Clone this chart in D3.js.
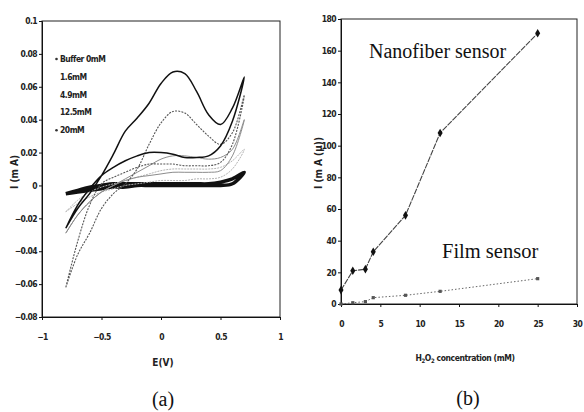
<!DOCTYPE html>
<html>
<head>
<meta charset="utf-8">
<script src="https://cdn.jsdelivr.net/npm/d3@7"></script>
<style>
  body { margin: 0; background: #fff; }
  .tick text { font-family: 'Liberation Sans Narrow', 'DejaVu Sans Condensed', sans-serif; font-size: 8.5px; font-weight: bold; fill: #222; letter-spacing: -0.6px; }
  .axis path, .axis line { stroke: #111; }
  .lbl { font-family: 'Liberation Sans Narrow', 'DejaVu Sans Condensed', sans-serif; font-weight: bold; fill: #222; }
  .serif { font-family: 'Liberation Serif', 'DejaVu Serif', serif; fill: #111; }
</style>
</head>
<body>
<div id="chart"></div>
<script>
// (a) cyclic voltammograms, current (mA) sampled every 0.1 V
const potentials = [-0.8, -0.7, -0.6, -0.5, -0.4, -0.3, -0.2, -0.1, 0, 0.1, 0.2, 0.3, 0.4, 0.5, 0.6, 0.7];
const cvLabels = ["Buffer 0mM", "1.6mM", "4.9mM", "12.5mM", "20mM"];
// forward sweep (-0.8 -> 0.7)
const fwdBuffer = [-0.005, -0.003, -0.001, 0.000, 0.001, 0.001, 0.001, 0.001, 0.001, 0.001, 0.001, 0.001, 0.001, 0.002, 0.004, 0.008];
const fwd16 = [-0.016, -0.009, -0.004, -0.001, 0.001, 0.003, 0.005, 0.007, 0.009, 0.010, 0.010, 0.010, 0.010, 0.011, 0.015, 0.022];
const fwd49 = [-0.029, -0.018, -0.010, -0.004, 0.000, 0.004, 0.008, 0.012, 0.016, 0.018, 0.018, 0.017, 0.016, 0.017, 0.022, 0.040];
const fwd125 = [-0.062, -0.042, -0.029, -0.014, -0.005, 0.001, 0.010, 0.025, 0.038, 0.045, 0.044, 0.037, 0.030, 0.025, 0.032, 0.055];
const fwd20 = [-0.026, -0.014, -0.005, 0.006, 0.019, 0.033, 0.041, 0.050, 0.062, 0.069, 0.068, 0.057, 0.043, 0.037, 0.047, 0.066];
// reverse sweep, listed at the same potentials (-0.8 -> 0.7)
const revBuffer = [-0.005, -0.004, -0.003, -0.002, -0.001, -0.001, 0.000, 0.000, 0.000, 0.000, 0.000, 0.000, 0.000, 0.000, 0.001, 0.008];
const rev16 = [-0.016, -0.011, -0.007, -0.004, -0.002, 0.000, 0.001, 0.002, 0.003, 0.003, 0.003, 0.004, 0.004, 0.005, 0.010, 0.022];
const rev49 = [-0.029, -0.018, -0.010, -0.004, 0.000, 0.003, 0.005, 0.006, 0.007, 0.008, 0.008, 0.008, 0.008, 0.009, 0.018, 0.040];
const rev125 = [-0.062, -0.034, -0.012, 0.001, 0.005, 0.008, 0.011, 0.013, 0.013, 0.013, 0.012, 0.012, 0.012, 0.014, 0.025, 0.055];
const rev20 = [-0.026, -0.012, -0.002, 0.006, 0.011, 0.015, 0.018, 0.020, 0.020, 0.019, 0.017, 0.017, 0.018, 0.024, 0.039, 0.066];

// (b) calibration, current vs H2O2 concentration
const concentrations = [0, 1.5, 3.1, 4.1, 8.2, 12.6, 25];
const nanofiber = [8.8, 21, 22, 33, 56, 108, 171];
const film = [0, 0.8, 1.5, 4, 5.5, 8, 16];

const cvTicksX = [-1, -0.5, 0, 0.5, 1];
const cvTicksY = [0.1, 0.08, 0.06, 0.04, 0.02, 0, -0.02, -0.04, -0.06, -0.08];
const calTicksX = [0, 5, 10, 15, 20, 25, 30];
const calTicksY = [0, 20, 40, 60, 80, 100, 120, 140, 160, 180];

const svg = d3.select("#chart").append("svg")
    .attr("width", 584)
    .attr("height", 412);

// ---------- panel (a) ----------
const xa = d3.scaleLinear().domain([-1, 1]).range([42, 280]);
const ya = d3.scaleLinear().domain([-0.08, 0.1]).range([317, 21]);

svg.append("rect")
    .attr("x", xa(-1)).attr("y", ya(0.1))
    .attr("width", xa(1) - xa(-1)).attr("height", ya(-0.08) - ya(0.1))
    .attr("fill", "none").attr("stroke", "#222").attr("stroke-width", 1);

svg.append("g").attr("class", "axis")
    .attr("transform", "translate(0," + ya(-0.08) + ")")
    .call(d3.axisBottom(xa).tickValues(cvTicksX).tickSize(3).tickPadding(14)
        .tickFormat(d => d3.format("")(d)));

svg.append("g").attr("class", "axis")
    .attr("transform", "translate(" + xa(-1) + ",0)")
    .call(d3.axisLeft(ya).tickValues(cvTicksY).tickSize(3).tickPadding(2)
        .tickFormat(d => d3.format("")(+d.toFixed(2))));

const cvSeries = [
    { fwd: fwdBuffer, rev: revBuffer, color: "#111", width: 3.5, dash: null },
    { fwd: fwd16, rev: rev16, color: "#b4b4b4", width: 1, dash: "2,1" },
    { fwd: fwd49, rev: rev49, color: "#8c8c8c", width: 1, dash: null },
    { fwd: fwd125, rev: rev125, color: "#555", width: 1.1, dash: "2,1.2" },
    { fwd: fwd20, rev: rev20, color: "#111", width: 1.5, dash: null }
];

const cvLine = d3.line()
    .x(d => xa(d[0]))
    .y(d => ya(d[1]))
    .curve(d3.curveCatmullRom);

cvSeries.forEach(s => {
    let pts = potentials.map((e, i) => [e, s.fwd[i]]);
    let back = potentials.map((e, i) => [e, s.rev[i]]).reverse().slice(1);
    svg.append("path")
        .attr("d", cvLine(pts.concat(back)))
        .attr("fill", "none")
        .attr("stroke", s.color)
        .attr("stroke-width", s.width)
        .attr("stroke-dasharray", s.dash)
        .attr("stroke-linejoin", "round");
});

// legend
const legend = svg.append("g");
cvLabels.forEach((name, i) => {
    let yy = 62 + i * 17.8;
    if (i === 0 || i === 4) {
        legend.append("circle").attr("cx", 56.5).attr("cy", yy - 3).attr("r", 1.3).attr("fill", "#333");
    }
    legend.append("text").attr("class", "lbl")
        .attr("x", 60).attr("y", yy)
        .style("font-size", "8.5px")
        .style("letter-spacing", "-0.5px")
        .text(name);
});

svg.append("text").attr("class", "lbl")
    .attr("transform", "translate(18,172) rotate(-90)")
    .attr("text-anchor", "middle")
    .style("font-size", "10px")
    .text("I (m A)");

svg.append("text").attr("class", "lbl")
    .attr("x", 163).attr("y", 366)
    .attr("text-anchor", "middle")
    .style("font-size", "10px")
    .text("E(V)");

svg.append("text").attr("class", "serif")
    .attr("x", 163).attr("y", 406)
    .attr("text-anchor", "middle")
    .style("font-size", "20px")
    .text("(a)");

// ---------- panel (b) ----------
const xb = d3.scaleLinear().domain([0, 30]).range([341, 577]);
const yb = d3.scaleLinear().domain([0, 180]).range([304, 19]);

svg.append("rect")
    .attr("x", xb(0)).attr("y", yb(180))
    .attr("width", xb(30) - xb(0)).attr("height", yb(0) - yb(180))
    .attr("fill", "none").attr("stroke", "#222").attr("stroke-width", 1);

svg.append("g").attr("class", "axis")
    .attr("transform", "translate(0," + yb(0) + ")")
    .call(d3.axisBottom(xb).tickValues(calTicksX).tickSize(3).tickPadding(14));

svg.append("g").attr("class", "axis")
    .attr("transform", "translate(" + xb(0) + ",0)")
    .call(d3.axisLeft(yb).tickValues(calTicksY).tickSize(3).tickPadding(2));

const calLine = d3.line()
    .x((d, i) => xb(concentrations[i]))
    .y(d => yb(d));

svg.append("path")
    .attr("d", calLine(nanofiber))
    .attr("fill", "none")
    .attr("stroke", "#444")
    .attr("stroke-width", 1.1)
    .attr("stroke-dasharray", "6,1");

svg.selectAll(".nano")
    .data(nanofiber)
    .enter()
    .append("path")
    .attr("class", "nano")
    .attr("transform", (d, i) => `translate(${xb(concentrations[i])},${yb(d)})`)
    .attr("d", d3.symbol().type(d3.symbolDiamond).size(22))
    .attr("fill", "#111");

svg.append("path")
    .attr("d", calLine(film))
    .attr("fill", "none")
    .attr("stroke", "#666")
    .attr("stroke-width", 1)
    .attr("stroke-dasharray", "1.5,2");

svg.selectAll(".film")
    .data(film)
    .enter()
    .append("rect")
    .attr("class", "film")
    .attr("x", (d, i) => xb(concentrations[i]) - 1.6)
    .attr("y", d => yb(d) - 1.6)
    .attr("width", 3.2)
    .attr("height", 3.2)
    .attr("fill", "#555");

svg.append("text").attr("class", "serif")
    .attr("x", 369).attr("y", 58)
    .style("font-size", "20px")
    .text("Nanofiber sensor");

svg.append("text").attr("class", "serif")
    .attr("x", 442).attr("y", 258)
    .style("font-size", "20.5px")
    .text("Film sensor");

svg.append("text").attr("class", "lbl")
    .attr("transform", "translate(322,163) rotate(-90)")
    .attr("text-anchor", "middle")
    .style("font-size", "10px")
    .text("I (m A (μ))");

const xl = svg.append("text").attr("class", "lbl")
    .attr("x", 465).attr("y", 361)
    .attr("text-anchor", "middle")
    .style("font-size", "8.5px")
    .style("letter-spacing", "-0.4px");
xl.append("tspan").text("H");
xl.append("tspan").attr("dy", 2).style("font-size", "6px").text("2");
xl.append("tspan").attr("dy", -2).text("O");
xl.append("tspan").attr("dy", 2).style("font-size", "6px").text("2");
xl.append("tspan").attr("dy", -2).text(" concentration (mM)");

svg.append("text").attr("class", "serif")
    .attr("x", 468).attr("y", 405)
    .attr("text-anchor", "middle")
    .style("font-size", "20px")
    .text("(b)");
</script>
</body>
</html>
